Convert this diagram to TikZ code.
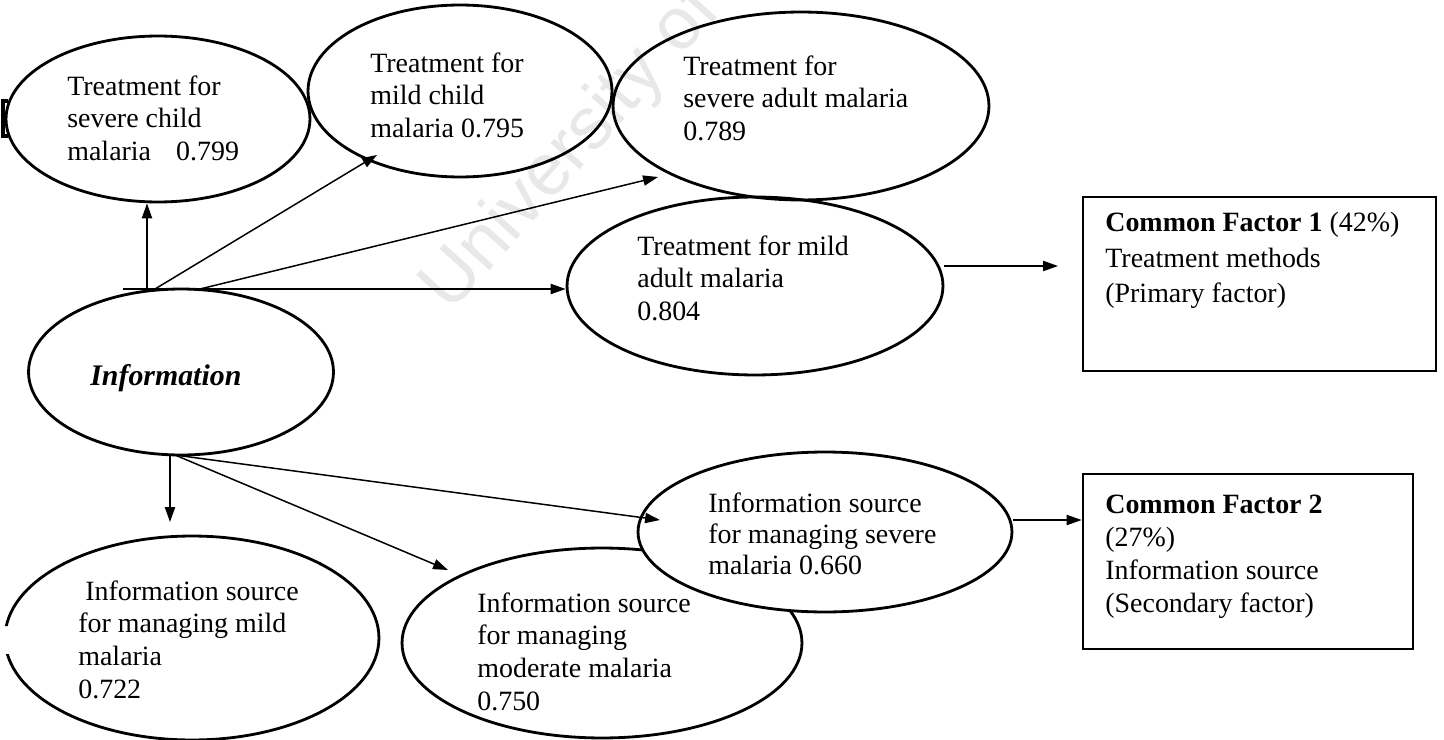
\documentclass[tikz,border=0pt]{standalone}
\usepackage{fontspec}
\setmainfont{Liberation Serif}
\newfontfamily\wmfont{Liberation Sans}
\usetikzlibrary{shapes.geometric,arrows.meta}

\begin{document}
\begin{tikzpicture}[x=0.02cm,y=-0.02cm,
  oval/.style={draw, ellipse, line width=1.6pt, inner sep=0pt},
  factorbox/.style={draw, line width=1.6pt, inner sep=0pt},
  lbl/.style={anchor=north west, inner sep=0pt, align=left,
    font=\fontsize{15.9pt}{18.7pt}\selectfont},
  arr/.style={line width=0.85pt, -{Triangle[length=8.5pt,width=5.8pt]}},
  wm/.style={text=black!9, font=\wmfont\fontsize{42pt}{46pt}\selectfont, inner sep=0pt}
]
\useasboundingbox (0,0) rectangle (1444,740);

% faint background stamp
\node[wm, rotate=48] (stamp) at (572,150) {University of};

% stray mark at the left margin
\draw[line width=2.2pt] (8,101) -- (3,101) -- (3,136) -- (8,136);

% loading ovals: treatment items
\node[oval, minimum width=6.08cm, minimum height=3.32cm] (A) at (158,119) {};
\node[oval, minimum width=6.08cm, minimum height=3.44cm] (B) at (460,91) {};
\node[oval, minimum width=7.52cm, minimum height=3.76cm] (C) at (801,106) {};
\node[oval, minimum width=7.52cm, minimum height=3.56cm] (D) at (755,286) {};

% source variable
\node[oval, minimum width=6.10cm, minimum height=3.32cm] (E) at (181,372) {};

% loading ovals: information items
\begin{scope}
  \clip (0,0) rectangle (1444,626) (0,654) rectangle (1444,740) (14,620) rectangle (1444,660);
  \node[oval, minimum width=7.48cm, minimum height=4.08cm] (H) at (192,638) {};
\end{scope}
\node[oval, minimum width=8.0cm, minimum height=3.8cm] (G) at (602,643) {};
\node[oval, fill=white, minimum width=7.48cm, minimum height=3.2cm] (F) at (825,532) {};

% factor boxes
\node[factorbox, minimum width=7.06cm, minimum height=3.48cm] (box1) at (1259.5,284) {};
\node[factorbox, minimum width=6.6cm, minimum height=3.5cm] (box2) at (1248,561.5) {};

% texts
\node[lbl] (At) at (67,75) {Treatment for\\severe child\\malaria\hspace{0.9em}0.799};
\node[lbl] (Bt) at (370,52) {Treatment for\\mild child\\malaria 0.795};
\node[lbl] (Ct) at (683,55) {Treatment for\\severe adult malaria\\0.789};
\node[lbl] (Dt) at (637,235) {Treatment for mild\\adult malaria\\0.804};
\node[lbl, anchor=base west, font=\fontsize{17pt}{20pt}\selectfont\bfseries\itshape] (Et) at (90,385) {Information};
\node[lbl, font=\fontsize{15.9pt}{17.9pt}\selectfont] (Ft) at (708,492) {Information source\\for managing severe\\malaria 0.660};
\node[lbl] (Gt) at (477,592) {Information source\\for managing\\moderate malaria\\0.750};
\node[lbl] (Ht) at (78,580) {\hspace{0.25em}Information source\\for managing mild\\malaria\\0.722};
\node[lbl, font=\fontsize{15.9pt}{20.1pt}\selectfont] (box1t) at (1105,212)
  {\textbf{Common Factor 1} (42\%)\\Treatment methods\\(Primary factor)};
\node[lbl] (box2t) at (1105,495)
  {\textbf{Common Factor 2}\\(27\%)\\Information source\\(Secondary factor)};

% arrows leaving the top of the source oval
\coordinate (t0) at (123,289);
\coordinate (t1) at (147,289);
\coordinate (t2) at (155,289);
\coordinate (t3) at (200,289);
\coordinate (tipB) at (377,155);
\coordinate (tipC) at (658,177);
\draw[arr] (t1) -- (t1 |- A.south);
\draw[arr] (t2) -- (tipB);
\draw[arr] (t3) -- (tipC);
\draw[arr] (t0) -- (t0 -| D.west);

% arrows leaving the bottom of the source oval
\coordinate (b1) at (170,455);
\coordinate (b2) at (175,455);
\coordinate (tipH) at (170,522);
\coordinate (tipG) at (448,570);
\coordinate (tipF) at (660,520);
\draw[arr] (b1) -- (tipH);
\draw[arr] (b2) -- (tipG);
\draw[arr] (b2) -- (tipF);

% arrows into the factor boxes
\coordinate (y1) at (0,266);
\coordinate (tip1) at (1058,266);
\coordinate (y2) at (0,520);
\draw[arr] (D.east |- y1) -- (tip1);
\draw[arr] (F.east |- y2) -- (box2.west |- y2);

\end{tikzpicture}
\end{document}
